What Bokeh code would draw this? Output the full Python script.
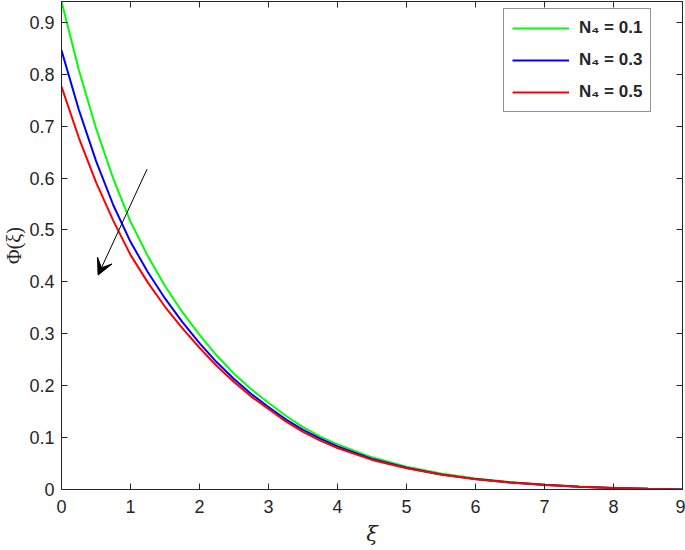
from bokeh.plotting import figure
from bokeh.models import LinearAxis, Range1d, Arrow, VeeHead, Legend, LegendItem, FixedTicker
from bokeh.embed import file_html
from bokeh.resources import INLINE

# ---- data ----
xi = [0, 0.25, 0.5, 0.75, 1, 1.25, 1.5, 1.75, 2, 2.25, 2.5, 2.75, 3, 3.25, 3.5, 3.75, 4,
      4.5, 5, 5.5, 6, 6.5, 7, 7.5, 8, 8.5, 9]
phi_n01 = [0.940, 0.809, 0.696, 0.599, 0.516, 0.450, 0.392, 0.342, 0.298, 0.258, 0.223, 0.193, 0.167,
           0.142, 0.120, 0.102, 0.087, 0.062, 0.044, 0.031, 0.0213, 0.0143, 0.0093, 0.0057, 0.0031, 0.0013, 0.0]
phi_n03 = [0.846, 0.732, 0.633, 0.548, 0.477, 0.419, 0.368, 0.323, 0.282, 0.245, 0.213, 0.184, 0.159,
           0.135, 0.115, 0.098, 0.083, 0.059, 0.042, 0.029, 0.0200, 0.0137, 0.0090, 0.0055, 0.0030, 0.0013, 0.0]
phi_n05 = [0.776, 0.678, 0.592, 0.518, 0.452, 0.399, 0.352, 0.311, 0.273, 0.238, 0.207, 0.179, 0.155,
           0.131, 0.111, 0.094, 0.080, 0.057, 0.041, 0.029, 0.0198, 0.0135, 0.0089, 0.0055, 0.0030, 0.0013, 0.0]
labels = ["N\u2084 = 0.1", "N\u2084 = 0.3", "N\u2084 = 0.5"]
colors = ["#00ff00", "#0000ff", "#ff0000"]
x_ticks = [0, 1, 2, 3, 4, 5, 6, 7, 8, 9]
y_ticks = [0, 0.1, 0.2, 0.3, 0.4, 0.5, 0.6, 0.7, 0.8, 0.9]
arrow_start = (1.24, 0.617)
arrow_end = (0.53, 0.413)

AX = "#262626"
TICKFONT = "Liberation Sans"

p = figure(width=685, height=550, output_backend="svg", toolbar_location=None,
           x_range=Range1d(0, 9), y_range=Range1d(0, 0.94),
           min_border_left=61, min_border_right=3, min_border_top=1, min_border_bottom=61)
p.xgrid.visible = False
p.ygrid.visible = False
p.outline_line_color = AX
p.background_fill_color = "white"
p.border_fill_color = "white"

renderers = []
for ys, c in zip([phi_n01, phi_n03, phi_n05], colors):
    r = p.line(xi, ys, line_color=c, line_width=2)
    renderers.append(r)

xa = p.xaxis[0]
ya = p.yaxis[0]
xa.ticker = FixedTicker(ticks=x_ticks)
ya.ticker = FixedTicker(ticks=y_ticks)
for ax in (xa, ya):
    ax.axis_line_color = AX
    ax.major_tick_line_color = AX
    ax.major_tick_in = 6
    ax.major_tick_out = 0
    ax.minor_tick_line_color = None
    ax.major_label_text_color = AX
    ax.major_label_text_font = TICKFONT
    ax.major_label_text_font_size = "18px"
xa.major_label_standoff = 10
ya.major_label_standoff = 7
ya.major_label_overrides = {0: "0"}
xa.axis_label = "\u03be"
xa.axis_label_text_font = "DejaVu Serif"
xa.axis_label_text_font_style = "italic"
xa.axis_label_text_font_size = "21px"
xa.axis_label_text_color = AX
xa.axis_label_standoff = 6
ya.axis_label = "\u03a6(\u03be)"
ya.axis_label_text_font = "Liberation Serif"
ya.axis_label_text_font_style = "normal"
ya.axis_label_text_font_size = "20px"
ya.axis_label_text_color = AX
ya.axis_label_standoff = 1

# top / right ticks (no labels)
top = LinearAxis(ticker=FixedTicker(ticks=x_ticks))
right = LinearAxis(ticker=FixedTicker(ticks=y_ticks))
for ax in (top, right):
    ax.axis_line_color = AX
    ax.major_tick_line_color = AX
    ax.major_tick_in = 6
    ax.major_tick_out = 0
    ax.minor_tick_line_color = None
    ax.major_label_text_font_size = "0px"
    ax.major_label_standoff = 0
    ax.major_label_text_color = None
p.add_layout(top, "above")
p.add_layout(right, "right")

# arrow
p.add_layout(Arrow(end=VeeHead(size=16, fill_color="black", line_color="black", line_width=1),
                   x_start=arrow_start[0], y_start=arrow_start[1],
                   x_end=arrow_end[0], y_end=arrow_end[1],
                   line_color="black", line_width=1))

legend = Legend(items=[LegendItem(label=l, renderers=[r]) for l, r in zip(labels, renderers)],
                location=(442, 377))
legend.label_text_font = TICKFONT
legend.label_text_font_style = "bold"
legend.label_text_font_size = "17px"
legend.label_text_color = AX
legend.border_line_color = AX
legend.border_line_width = 1
legend.background_fill_color = "white"
legend.background_fill_alpha = 1
legend.glyph_width = 57
legend.glyph_height = 22
legend.label_standoff = 10
legend.spacing = 10
legend.padding = 8
legend.margin = 0
p.add_layout(legend, "center")

open("out.html", "w").write(file_html(p, INLINE))
